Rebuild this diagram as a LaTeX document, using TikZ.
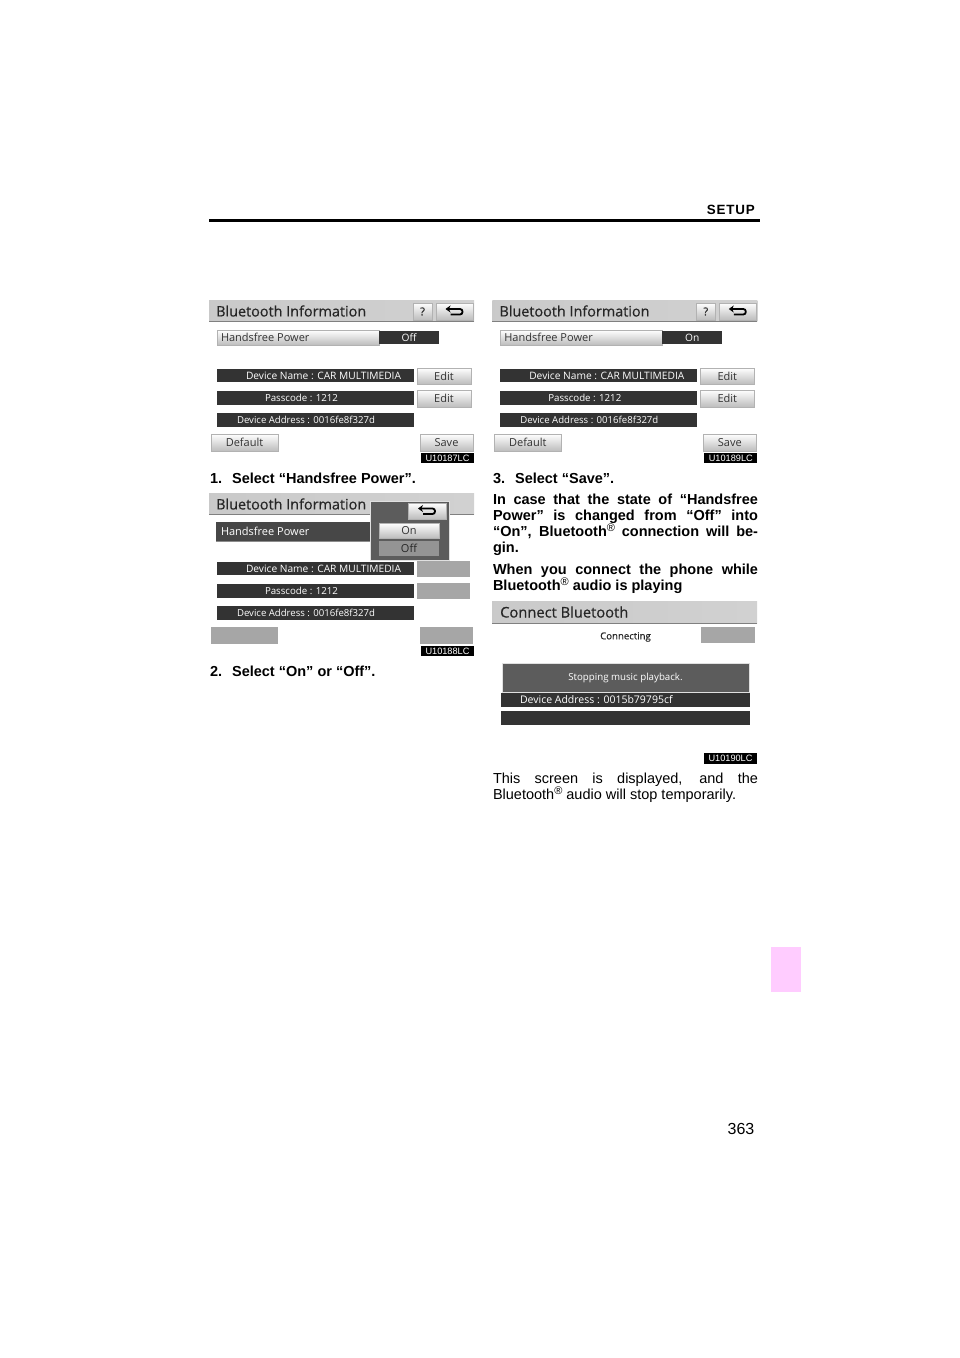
\documentclass[tikz,border=0pt]{standalone}
\usepackage{fontspec}
\setmainfont{Liberation Sans}
\newfontfamily\uifont{Open Sans}
\newfontfamily\uibold[FakeBold=0.5]{Open Sans}
\usetikzlibrary{arrows.meta,shadows}
\definecolor{pinktab}{HTML}{FFCCFF}
\definecolor{bardark}{HTML}{333333}
\definecolor{paneldark}{HTML}{5C5C5C}
\definecolor{dimbtn}{HTML}{A6A6A6}
\colorlet{c1}{black!21}\colorlet{c2}{black!7}\colorlet{c3}{black!26}\colorlet{c4}{black!30}
\tikzset{
 x=1pt,y=-1pt,
 pxnode/.style={anchor=north west,inner sep=0pt,outer sep=0pt},
 titlebar/.style={pxnode,left color=c1,middle color=c2,right color=black!18,draw=none},
 darkbar/.style={pxnode,fill=bardark,text=white,font=\uifont\fontsize{10.2}{10}\selectfont},
 btn/.style={pxnode,top color=white,bottom color=c3,draw=c4,line width=.5pt,
   drop shadow={shadow xshift=.7pt,shadow yshift=-.9pt,fill=black!60,opacity=1},
   font=\uifont\fontsize{11}{10}\selectfont,text=black!80},
 dimb/.style={pxnode,fill=dimbtn},
 codelabel/.style={pxnode,fill=black,text=white,font=\fontsize{9.2}{9}\selectfont},
 bodytext/.style={anchor=base west,inner sep=0pt,outer sep=0pt,font=\fontsize{14.5}{16}\bfseries\selectfont},
 plaintext/.style={anchor=base west,inner sep=0pt,outer sep=0pt,font=\fontsize{14.5}{16}\selectfont},
 titletext/.style={anchor=west,inner sep=0pt,font=\uibold\fontsize{14.4}{15}\selectfont,text=black!85},
 backarrow/.style={line width=1.8pt,-{Stealth[length=5pt,width=7pt]}},
}
\newcommand{\pxbox}[7]{%
 \pgfmathsetmacro{\pw}{#4-#2}\pgfmathsetmacro{\ph}{#5-#3}%
 \node[#6,minimum width=\pw pt,minimum height=\ph pt] (#1) at (#2,#3) {\hbox to \pw pt{\hfil #7\hfil}};}
\newcommand{\backicon}[1]{%
 \draw[backarrow,rounded corners=2.5pt] ([shift={(-4,3)}]#1.center) -- ([shift={(8,3)}]#1.center) -- ([shift={(8,-2.5)}]#1.center) -- ([shift={(-9,-2.5)}]#1.center);}
\newcommand{\regmark}{\raisebox{.34em}{\fontsize{11}{11}\mdseries\selectfont®}}
\newcommand{\common}[1]{%
 \pxbox{#1title}{209}{300}{474}{321}{titlebar}{}
 \draw[black!50,line width=.8pt] (#1title.south west) -- (#1title.south east);
 \node[titletext] (#1ttxt) at (216,311) {Bluetooth Information};
 \pxbox{#1dn}{217}{369}{414}{382}{darkbar}{\hspace*{29pt}Device Name : CAR MULTIMEDIA\hfill}
 \pxbox{#1pc}{217}{391}{414}{405}{darkbar,font=\uifont\fontsize{9.7}{10}\selectfont}{\hspace*{48pt}Passcode : 1212\hfill}
 \pxbox{#1da}{217}{413}{414}{427}{darkbar,font=\uifont\fontsize{9.6}{10}\selectfont}{\hspace*{20pt}Device Address : 0016fe8f327d\hfill}
}
\newcommand{\normalscreen}[3]{%
 \common{#1}
 \pxbox{#1q}{413}{303}{432}{320}{btn,font=\uibold\fontsize{11}{10}\selectfont}{?}
 \pxbox{#1back}{436}{303}{473}{320}{btn}{}
 \backicon{#1back}
 \pxbox{#1hf}{217}{330}{379}{345}{btn}{\hspace*{4pt}Handsfree Power\hfill}
 \pxbox{#1st}{379}{331}{439}{344}{darkbar}{#2}
 \pxbox{#1ed}{417}{368}{471}{384}{btn}{Edit}
 \pxbox{#1ep}{417}{390}{471}{407}{btn}{Edit}
 \pxbox{#1def}{211}{434}{278}{451}{btn}{Default}
 \pxbox{#1sav}{420}{434}{473}{451}{btn}{Save}
 \pxbox{#1code}{421}{453}{474}{463}{codelabel}{#3}
}
\begin{document}
\begin{tikzpicture}
\useasboundingbox (0,0) rectangle (960,1358);
\fill[white] (0,0) rectangle (960,1358);
% header
\node[anchor=base east,inner sep=0pt,font=\fontsize{13.4}{14}\bfseries\selectfont] (setup) at (755,214) {\addfontfeatures{LetterSpace=6}SETUP};
\coordinate (ruleL) at (209,220.5); \coordinate (ruleR) at (760,220.5);
\draw[line width=3pt] (ruleL) -- (ruleR);
% screen 1
\normalscreen{a}{Off}{U10187LC}
\node[bodytext] (t1) at (210,483) {1.\hspace{10pt}Select “Handsfree Power”.};
% screen 2
\begin{scope}[yshift=-193pt]
 \pxbox{bq}{413}{300}{432}{321}{pxnode,fill=black!25}{}
 \pxbox{bbk}{436}{300}{473}{321}{pxnode,fill=black!25}{}
 \common{b}
 \pxbox{bed}{417}{368}{470}{384}{dimb}{}
 \pxbox{bep}{417}{390}{470}{406}{dimb}{}
 \pxbox{bdef}{211}{434}{278}{451}{dimb}{}
 \pxbox{bsav}{420}{434}{473}{451}{dimb}{}
 \pxbox{bhf}{216}{329}{372}{348}{pxnode,fill=black!72,text=white,drop shadow={shadow xshift=0pt,shadow yshift=-1.2pt,fill=black!45,opacity=1},font=\uifont\fontsize{11}{10}\selectfont}{\hspace*{5pt}Handsfree Power\hfill}
 \pxbox{bpop}{370}{308}{449}{367}{pxnode,fill=paneldark,draw=black!12,line width=.8pt}{}
 \pxbox{bback}{408}{310}{446}{326}{btn}{}
 \backicon{bback}
 \pxbox{bon}{379}{330}{439}{345}{btn}{On}
 \pxbox{boff}{379}{348}{439}{363}{pxnode,fill=black!42,text=black!85,font=\uifont\fontsize{11}{10}\selectfont}{Off}
 \pxbox{bcode}{421}{453}{474}{463}{codelabel}{U10188LC}
\end{scope}
\node[bodytext] (t2) at (210,676) {2.\hspace{10pt}Select “On” or “Off”.};
% screen 3
\begin{scope}[xshift=283.3pt]
 \normalscreen{c}{On}{U10189LC}
\end{scope}
\node[bodytext] (t3) at (493,483) {3.\hspace{10pt}Select “Save”.};
\node[bodytext] (t4) at (493,504) {\hbox to 265pt{In case that the state of “Handsfree}};
\node[bodytext] (t5) at (493,520) {\hbox to 265pt{Power” is changed from “Off” into}};
\node[bodytext] (t6) at (493,536) {\hbox to 265pt{“On”, Bluetooth\regmark\ connection will be-}};
\node[bodytext] (t7) at (493,552) {gin.};
\node[bodytext] (t8) at (493,574) {\hbox to 265pt{When you connect the phone while}};
\node[bodytext] (t9) at (493,590) {Bluetooth\regmark\ audio is playing};
% screen 4
\pxbox{dtitle}{492}{601}{757}{623}{titlebar}{}
\draw[black!50,line width=.8pt] (dtitle.south west) -- (dtitle.south east);
\node[titletext,font=\uibold\fontsize{14.7}{15}\selectfont] (dttxt) at (500,612) {Connect Bluetooth};
\node[anchor=center,inner sep=0pt,font=\uibold\fontsize{9.6}{10}\selectfont,text=black!85] (dconn) at (625.5,637) {Connecting};
\pxbox{dcan}{701}{627}{755}{643}{dimb}{}
\pxbox{dpanel}{502}{663}{749}{692}{pxnode,fill=paneldark,draw=black!12,line width=.8pt,text=white,font=\uifont\fontsize{9.7}{10}\selectfont}{Stopping music playback.}
\pxbox{dda}{501}{693}{750}{707}{darkbar,font=\uifont\fontsize{10.5}{10}\selectfont}{\hspace*{19pt}Device Address : 0015b79795cf\hfill}
\pxbox{dempty}{501}{711}{750}{725}{darkbar}{}
\pxbox{dcode}{704}{753}{757}{764}{codelabel}{U10190LC}
\node[plaintext] (t10) at (493,783) {\hbox to 265pt{This screen is displayed, and the}};
\node[plaintext] (t11) at (493,799) {Bluetooth\regmark\ audio will stop temporarily.};
% tab and page number
\pxbox{tab}{771}{947}{801}{992}{pxnode,fill=pinktab}{}
\node[anchor=base,inner sep=0pt,font=\fontsize{16}{18}\selectfont] (pg) at (741,1134) {363};
\end{tikzpicture}
\end{document}
